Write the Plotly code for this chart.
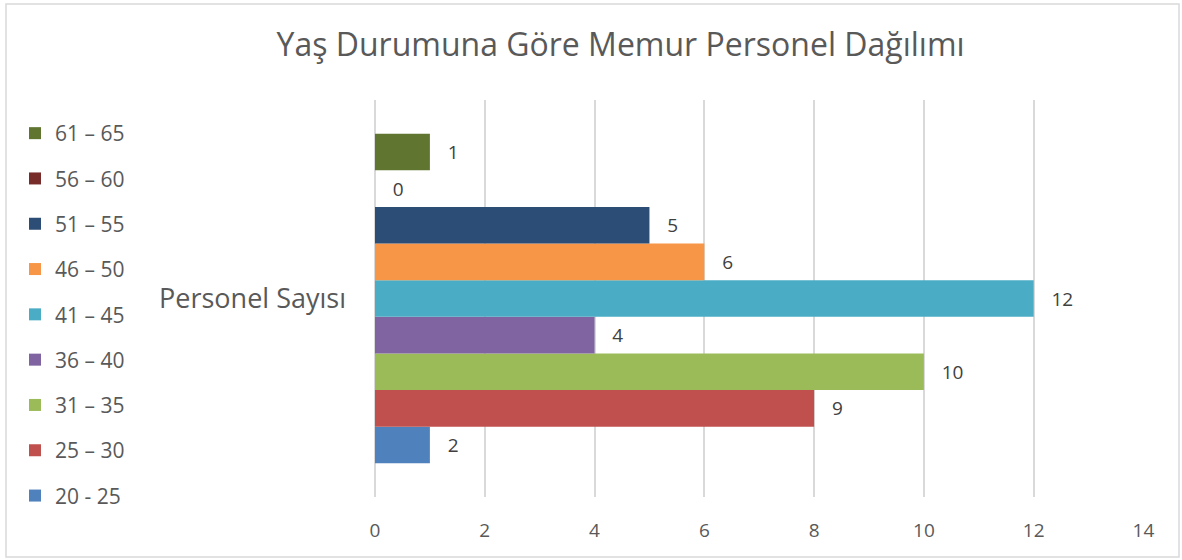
import plotly.graph_objects as go

category = ["Personel Sayısı"]
age_groups = ["20 - 25", "25 – 30", "31 – 35", "36 – 40", "41 – 45", "46 – 50", "51 – 55", "56 – 60", "61 – 65"]
bar_values = [1, 8, 10, 4, 12, 6, 5, 0, 1]
label_values = ["2", "9", "10", "4", "12", "6", "5", "0", "1"]
colors = ["#4F81BD", "#C0504D", "#9BBB59", "#8064A2", "#4BACC6", "#F79646", "#2C4D75", "#772C2A", "#5F7530"]
x_ticks = [0, 2, 4, 6, 8, 10, 12, 14]

W, H = 1182, 560
L, R, T, B = 375, 38, 100, 63
pw, ph = W - L - R, H - T - B

fig = go.Figure()
n = len(age_groups)
for i, (name, v, lab, c) in enumerate(zip(age_groups, bar_values, label_values, colors)):
    fig.add_trace(go.Bar(
        y=category, x=[v], name=name, orientation="h",
        marker=dict(color=c, line=dict(width=0)),
        text=[lab], texttemplate="   %{text}", textposition="outside",
        cliponaxis=False,
        textfont=dict(size=19, color="#404040", family="Open Sans"),
        legendgroup=name, legendrank=n - i,
    ))

def px_x(p):
    return (p - L) / pw

def px_y(p):
    return (H - B - p) / ph

fig.update_layout(
    width=W, height=H,
    margin=dict(l=L, r=R, t=T, b=B),
    paper_bgcolor="white", plot_bgcolor="white",
    barmode="group", bargap=0.17, bargroupgap=0,
    title=dict(text="Yaş Durumuna Göre Memur Personel Dağılımı",
               x=0.525, xanchor="center", y=0.92, yanchor="middle",
               font=dict(size=32, color="#595959", family="Open Sans")),
    font=dict(family="Open Sans", color="#595959"),
    legend=dict(traceorder="grouped", tracegroupgap=15,
                x=px_x(15), xanchor="left", y=px_y(113), yanchor="top",
                font=dict(size=21, color="#595959"), maxheight=520,
                itemwidth=30, bgcolor="rgba(0,0,0,0)"),
    xaxis=dict(range=[0, 14.01], tickvals=x_ticks, showgrid=True,
               gridcolor="#D9D9D9", gridwidth=1.5, zeroline=True,
               zerolinecolor="#D9D9D9", zerolinewidth=1.5,
               showline=False, tickfont=dict(size=19, color="#595959"),
               ticks="", ticklabelstandoff=20),
    yaxis=dict(showgrid=False, showline=False, zeroline=False, ticks="",
               tickfont=dict(size=27, color="#595959"), ticklabelstandoff=28),
    showlegend=True,
    shapes=[dict(type="rect", xref="paper", yref="paper",
                 x0=px_x(6), x1=px_x(1179), y0=px_y(557), y1=px_y(4),
                 line=dict(color="#D9D9D9", width=1.5), layer="below")],
)

fig.write_html("out.html", config={"displayModeBar": False},
               post_script="document.body.style.margin='0';")
